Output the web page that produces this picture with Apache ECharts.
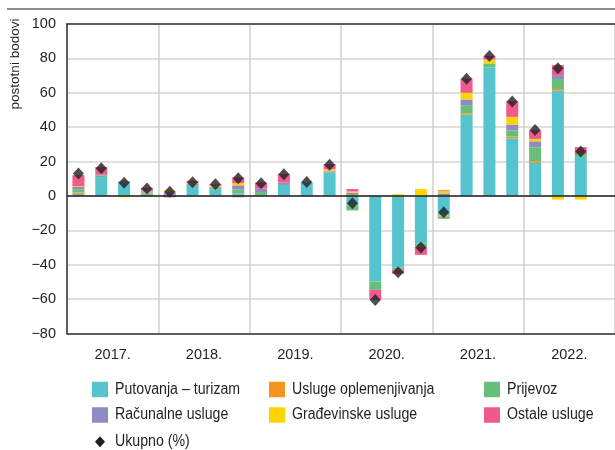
<!DOCTYPE html>
<html>
<head>
<meta charset="utf-8">
<script src="https://cdn.jsdelivr.net/npm/echarts@6/dist/echarts.min.js"></script>
<style>
  html, body { margin: 0; padding: 0; background: #fff; }
  #chart { width: 615px; height: 450px; }
</style>
</head>
<body>
<div id="chart"></div>
<script>
// Quarters 2017 Q1 .. 2022 Q4 (last quarter has no data yet)
const quarters = [
  '2017Q1','2017Q2','2017Q3','2017Q4',
  '2018Q1','2018Q2','2018Q3','2018Q4',
  '2019Q1','2019Q2','2019Q3','2019Q4',
  '2020Q1','2020Q2','2020Q3','2020Q4',
  '2021Q1','2021Q2','2021Q3','2021Q4',
  '2022Q1','2022Q2','2022Q3','2022Q4'
];
const years = ['2017.', '2018.', '2019.', '2020.', '2021.', '2022.'];
const yTicks = [-80, -60, -40, -20, 0, 20, 40, 60, 80, 100];

// Contributions, percentage points
const putovanja = [1.2, 11, 8, 1.5, 0, 6.4, 3.9, 1.5, 0.5, 6.4, 8, 13.8,
  -5.8, -49.8, -41.5, -27.5, -11.4, 47.3, 74.6, 33.5, 19.2, 61.2, 22.7];
const oplemenjivanje = [0.8, 0, 0, 0.7, 0, 0, 0, -0.8, 0, 0, 0, 0.5,
  0.6, 0, 0, 0, -0.7, 0.8, 0, 1, 1, 1, 0];
const prijevoz = [1.7, 1, 0, 0.5, 0, 0, 1.0, 2.2, 1.8, 0, 0, 0,
  -2.6, -4.8, -1.5, -2, -1.2, 4.7, 2.5, 3.5, 8.1, 5.8, 1.7];
const racunalne = [1.5, 0.3, 0, 0.3, 2.2, 0.8, 0.6, 2.5, 2, 1.4, 0, 0.5,
  1.2, 0, 0, 0, 1.5, 3.3, 0, 3.5, 3.5, 2.3, 0];
const gradjevinske = [0.5, 0, -0.8, -0.5, 1, 0.4, 0.5, 1.3, 0, 0, 0, 0.7,
  0.8, 0, 1, 4, 1.5, 3.9, 2.3, 4.5, 1.4, -2.1, -2.1];
const ostale = [6.4, 4.5, 0.5, 1.7, -0.8, 1.2, 0.8, 3.3, 3.5, 5, 0, 3,
  1.4, -5.8, -2.3, -4.8, 0.4, 8.3, 2, 9.1, 5, 5.8, 4];
const ukupno = [13, 16.1, 7.7, 4.3, 2.4, 8, 6.8, 10.3, 7.4, 12.6, 8.1, 18.2,
  -4.3, -60.5, -44.4, -30, -9.5, 68.1, 81.4, 54.9, 38.4, 74.3, 25.8];

const FONT = '"Liberation Sans", Arial, sans-serif';
const TXT = '#231f20';

const barDefs = [
  { name: 'Putovanja – turizam', data: putovanja, color: '#55c4cf' },
  { name: 'Usluge oplemenjivanja', data: oplemenjivanje, color: '#f7941d' },
  { name: 'Prijevoz', data: prijevoz, color: '#68bf7a' },
  { name: 'Računalne usluge', data: racunalne, color: '#8f8cc4' },
  { name: 'Građevinske usluge', data: gradjevinske, color: '#ffd400' },
  { name: 'Ostale usluge', data: ostale, color: '#f15a8a' }
];
const totalName = 'Ukupno (%)';

const series = barDefs.map((d, i) => ({
  name: d.name,
  type: 'bar',
  stack: 'total',
  xAxisIndex: 0,
  barWidth: 12,
  data: d.data,
  itemStyle: { color: d.color },
  emphasis: { disabled: true },
  markLine: i === 0 ? {
    silent: true,
    symbol: 'none',
    label: { show: false },
    lineStyle: { color: '#231f20', width: 1.5, type: 'solid' },
    data: [{ yAxis: 0 }],
    z: 10
  } : undefined
}));

series.push({
  name: totalName,
  type: 'scatter',
  xAxisIndex: 0,
  data: ukupno,
  symbol: 'diamond',
  symbolSize: [11, 12],
  itemStyle: { color: '#231f20' },
  z: 5
});

// Legend: three columns of swatches with condensed labels
const legendCols = [92, 269, 484];
const legendRows = [389.5, 415];
const legendLayout = [
  [0, 0], [1, 0], [2, 0],
  [0, 1], [1, 1], [2, 1]
];
const legendGraphics = [];
function legendLabel(x, y, text) {
  return {
    type: 'text', silent: true, x: x, y: y, scaleX: 0.885,
    style: { text: text, fontFamily: FONT, fontSize: 16, fill: TXT, align: 'left', verticalAlign: 'middle' }
  };
}
barDefs.forEach((d, k) => {
  const col = legendLayout[k][0], row = legendLayout[k][1];
  const x = legendCols[col], y = legendRows[row];
  legendGraphics.push({
    type: 'rect', silent: true,
    shape: { x: x, y: y - 7.75, width: 16, height: 15.5 },
    style: { fill: d.color }
  });
  legendGraphics.push(legendLabel(x + 23, y, d.name));
});
legendGraphics.push({
  type: 'polygon', silent: true,
  shape: { points: [[100, 436.2], [105, 441.7], [100, 447.2], [95, 441.7]] },
  style: { fill: '#231f20' }
});
legendGraphics.push(legendLabel(115, 441.7, totalName));

const chart = echarts.init(document.getElementById('chart'), null, { renderer: 'canvas' });
chart.setOption({
  animation: false,
  backgroundColor: '#fff',
  grid: { left: 67, right: -4.5, top: 24, bottom: 116.5 },
  xAxis: [
    {
      type: 'category', data: quarters, position: 'top',
      axisLine: { onZero: false, lineStyle: { color: '#333', width: 1.5 } },
      axisTick: { show: false }, axisLabel: { show: false }, splitLine: { show: false }
    },
    {
      type: 'category', data: years, position: 'bottom', boundaryGap: true,
      axisLine: { onZero: false, lineStyle: { color: '#333', width: 1.5 } },
      axisTick: { show: false },
      axisLabel: { fontFamily: FONT, fontSize: 14.5, color: TXT, margin: 14 },
      splitLine: { show: true, lineStyle: { color: '#cfcfcf', width: 1.5 } }
    }
  ],
  yAxis: {
    type: 'value', min: yTicks[0], max: yTicks[yTicks.length - 1], interval: 20,
    axisLine: { show: true, lineStyle: { color: '#333', width: 1.5 } },
    axisTick: { show: false },
    axisLabel: {
      fontFamily: FONT, fontSize: 14.5, color: TXT, margin: 11,
      formatter: v => String(v).replace('-', '\u2212')
    },
    splitLine: { lineStyle: { color: '#d4d4d4', width: 1.5 } }
  },
  graphic: [
    {
      type: 'line', silent: true,
      shape: { x1: 7, y1: 9, x2: 615, y2: 9 },
      style: { stroke: '#8c8c8c', lineWidth: 2 }
    },
    {
      type: 'text', silent: true, x: 15, y: 64, rotation: Math.PI / 2,
      style: {
        text: 'postotni bodovi', fontFamily: FONT, fontSize: 13.5, fill: TXT,
        align: 'center', verticalAlign: 'middle'
      }
    }
  ].concat(legendGraphics),
  series: series
});
</script>
</body>
</html>
